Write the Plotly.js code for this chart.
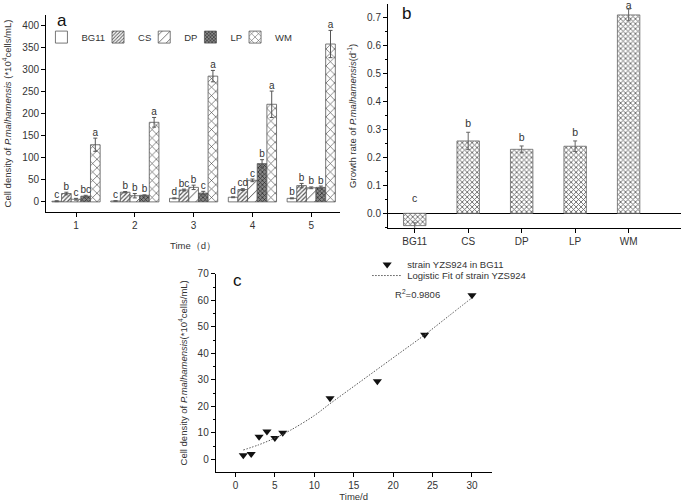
<!DOCTYPE html>
<html>
<head>
<meta charset="utf-8">
<script src="https://cdn.plot.ly/plotly-3.0.1.min.js"></script>
<style>
  body { margin: 0; background: #fff; }
  #chart { width: 685px; height: 502px; }
</style>
</head>
<body>
<div id="chart"></div>
<script>
// panel a: cell density per day
const days = [1, 2, 3, 4, 5];
const bg11Density = [1.5, 2, 8, 10.5, 8];
const bg11Err = [1, 0.5, 1, 1, 1];
const bg11Letters = ['c', 'c', 'd', 'd', 'b'];
const csDensity = [19, 22, 27, 28, 37];
const csErr = [3, 1.5, 2, 2, 5];
const csLetters = ['b', 'b', 'bc', 'cd', 'b'];
const dpDensity = [6, 14, 33, 49, 32];
const dpErr = [2, 5, 5, 3, 2];
const dpLetters = ['c', 'b', 'b', 'c', 'b'];
const lpDensity = [13, 15, 20, 87, 33];
const lpErr = [2, 1, 4, 9, 3];
const lpLetters = ['bc', 'b', 'c', 'b', 'b'];
const wmDensity = [130, 181, 286, 222, 359];
const wmErr = [15, 11, 13, 30, 31];
const wmLetters = ['a', 'a', 'a', 'a', 'a'];

// panel b: growth rate
const media = ['BG11', 'CS', 'DP', 'LP', 'WM'];
const growthRate = [-0.044, 0.259, 0.229, 0.24, 0.71];
const growthErr = [0.01, 0.031, 0.012, 0.019, 0.021];
const growthLetters = ['c', 'b', 'b', 'b', 'a'];

// panel c: strain in BG11 and its fit
const timeC = [1, 2, 3, 4, 5, 6, 12, 18, 24, 30];
const densityC = [1.5, 2, 8.5, 10.5, 8, 10, 23, 29.5, 47, 62];
const fitTime = [1, 3, 5, 7, 10, 12, 15, 18, 21, 24, 27, 30];
const fitDensity = [3.5, 5.5, 8, 11, 16.5, 21, 27.5, 34, 40.5, 47, 54, 61];

const FONT = 'Liberation Sans, Arial, sans-serif';
const INK = '#333';

// bar styles for each medium in panel a
const series = [
    { name: 'BG11', y: bg11Density, err: bg11Err, letters: bg11Letters,
      pattern: { shape: '', bgcolor: '#fff' } },
    { name: 'CS', y: csDensity, err: csErr, letters: csLetters,
      pattern: { shape: '/', size: 3, solidity: 0.4, fgcolor: '#555', bgcolor: '#fff' } },
    { name: 'DP', y: dpDensity, err: dpErr, letters: dpLetters,
      pattern: { shape: '/', size: 7, solidity: 0.12, fgcolor: '#333', bgcolor: '#fff' } },
    { name: 'LP', y: lpDensity, err: lpErr, letters: lpLetters,
      pattern: { shape: 'x', size: 3, solidity: 0.4, fgcolor: '#222', bgcolor: '#888' } },
    { name: 'WM', y: wmDensity, err: wmErr, letters: wmLetters,
      pattern: { shape: 'x', size: 6, solidity: 0.2, fgcolor: '#444', bgcolor: '#fff' } }
];

let traces = [];

series.forEach(function (s) {
    traces.push({
        type: 'bar',
        x: days,
        y: s.y,
        name: s.name,
        xaxis: 'x',
        yaxis: 'y',
        legend: 'legend',
        marker: { color: '#fff', pattern: s.pattern, line: { color: '#555', width: 0.8 } },
        error_y: { type: 'data', array: s.err, visible: true, color: '#555', thickness: 1, width: 2 },
        hoverinfo: 'skip'
    });
});

// significance letters sit above the error bars
series.forEach(function (s) {
    traces.push({
        type: 'scatter',
        mode: 'text',
        x: days,
        y: s.y.map((v, i) => v + s.err[i]),
        text: s.letters,
        textposition: 'top center',
        textfont: { family: FONT, size: 10, color: INK },
        xaxis: 'x',
        yaxis: 'y',
        showlegend: false,
        cliponaxis: false,
        hoverinfo: 'skip'
    });
});

// panel b
traces.push({
    type: 'bar',
    x: media,
    y: growthRate,
    width: 0.42,
    xaxis: 'x2',
    yaxis: 'y2',
    showlegend: false,
    marker: { color: '#fff', pattern: { shape: 'x', size: 3.5, solidity: 0.45, fgcolor: '#666', bgcolor: '#fff' },
              line: { color: '#666', width: 0.8 } },
    error_y: { type: 'data', array: growthErr, visible: true, color: '#666', thickness: 1, width: 2 },
    hoverinfo: 'skip'
});
// letters centred above each cap (kept inside the axis range); BG11 gets its letter above zero
traces.push({
    type: 'scatter',
    mode: 'text',
    x: media,
    y: growthRate.map((v, i) => v > 0 ? Math.min(v + growthErr[i] + 0.028, 0.742) : 0.05),
    text: growthLetters,
    textposition: 'middle center',
    textfont: { family: FONT, size: 10.5, color: INK },
    xaxis: 'x2',
    yaxis: 'y2',
    showlegend: false,
    cliponaxis: false,
    hoverinfo: 'skip'
});

// panel c
traces.push({
    type: 'scatter',
    mode: 'markers',
    x: timeC,
    y: densityC,
    name: 'strain YZS924 in BG11',
    xaxis: 'x3',
    yaxis: 'y3',
    legend: 'legend2',
    offsetgroup: 'c',
    marker: { symbol: 'triangle-down', size: 8, color: '#111' },
    hoverinfo: 'skip'
});
traces.push({
    type: 'scatter',
    mode: 'lines',
    x: fitTime,
    y: fitDensity,
    name: 'Logistic Fit of strain YZS924',
    xaxis: 'x3',
    yaxis: 'y3',
    legend: 'legend3',
    offsetgroup: 'c',
    line: { color: '#555', width: 1, dash: '1.5px,1.5px', shape: 'spline' },
    hoverinfo: 'skip'
});

const axisBase = {
    showline: true,
    linecolor: '#000',
    linewidth: 1,
    ticks: 'outside',
    ticklen: 4,
    tickcolor: '#000',
    showgrid: false,
    zeroline: false,
    mirror: false,
    tickfont: { family: FONT, size: 10, color: INK }
};

const titleFont = { family: FONT, size: 9.5, color: INK };
const smallLegend = { family: FONT, size: 9.5, color: INK };

const layout = {
    width: 685,
    height: 502,
    margin: { l: 0, r: 0, t: 0, b: 0 },
    paper_bgcolor: '#fff',
    plot_bgcolor: 'rgba(0,0,0,0)',
    font: { family: FONT, color: INK },
    barmode: 'group',
    bargap: 0.18,
    bargroupgap: 0,
    scattermode: 'group',
    xaxis: Object.assign({}, axisBase, {
        domain: [0.0672, 0.4964], anchor: 'y',
        range: [0.49, 5.49], tickvals: days,
        title: { text: 'Time（d）', font: titleFont, standoff: 12 }
    }),
    yaxis: Object.assign({}, axisBase, {
        domain: [0.5777, 0.9701], anchor: 'x',
        range: [-23, 425], dtick: 50,
        title: { text: 'Cell density of <i>P.malhamensis</i> (*10<sup>4</sup>cells/mL)', font: titleFont, standoff: 9 }
    }),
    xaxis2: Object.assign({}, axisBase, {
        domain: [0.5664, 0.9942], anchor: 'y2',
        type: 'category', range: [-0.5, 4.98]
    }),
    yaxis2: Object.assign({}, axisBase, {
        domain: [0.5464, 0.992], anchor: 'x2',
        range: [-0.0515, 0.749], dtick: 0.1, tickformat: '.1f',
        zeroline: true, zerolinecolor: '#000', zerolinewidth: 1,
        minor: { dtick: 0.05, ticks: 'outside', ticklen: 2, tickcolor: '#000' },
        title: { text: 'Growth rate of <i>P.malhamensis</i>(d<sup>-1</sup>)', font: titleFont, standoff: 8 }
    }),
    xaxis3: Object.assign({}, axisBase, {
        domain: [0.3149, 0.7178], anchor: 'y3',
        range: [-2.5, 32.5], dtick: 5,
        title: { text: 'Time/d', font: titleFont, standoff: 8 }
    }),
    yaxis3: Object.assign({}, axisBase, {
        domain: [0.0604, 0.4542], anchor: 'x3',
        range: [-4.7, 70], dtick: 10,
        minor: { dtick: 5, ticks: 'outside', ticklen: 2, tickcolor: '#000' },
        title: { text: 'Cell density of <i>P.malhamensis</i>(*10<sup>4</sup>cells/mL)', font: titleFont, standoff: 8 }
    }),
    legend: {
        orientation: 'h', x: 0.078, y: 0.955, xanchor: 'left', yanchor: 'top',
        font: smallLegend, bgcolor: 'rgba(0,0,0,0)',
        itemwidth: 30, indentation: -12, traceorder: 'normal'
    },
    legend2: {
        x: 0.536, y: 0.502, xanchor: 'left', yanchor: 'top',
        font: smallLegend, bgcolor: 'rgba(0,0,0,0)', itemwidth: 30
    },
    legend3: {
        x: 0.536, y: 0.480, xanchor: 'left', yanchor: 'top',
        font: smallLegend, bgcolor: 'rgba(0,0,0,0)', itemwidth: 30
    },
    annotations: [
        { text: 'a', xref: 'paper', yref: 'paper', x: 0.09, y: 0.96, xanchor: 'center', yanchor: 'middle',
          showarrow: false, font: { family: FONT, size: 17, color: '#111' } },
        { text: 'b', xref: 'paper', yref: 'paper', x: 0.594, y: 0.974, xanchor: 'center', yanchor: 'middle',
          showarrow: false, font: { family: FONT, size: 17, color: '#111' } },
        { text: 'c', xref: 'paper', yref: 'paper', x: 0.347, y: 0.442, xanchor: 'center', yanchor: 'middle',
          showarrow: false, font: { family: FONT, size: 17, color: '#111' } },
        { text: 'R<sup>2</sup>=0.9806', xref: 'paper', yref: 'paper', x: 0.574, y: 0.415,
          xanchor: 'left', yanchor: 'middle', showarrow: false, font: { family: FONT, size: 9.5, color: INK } }
    ]
};

Plotly.newPlot('chart', traces, layout, { staticPlot: true });
</script>
</body>
</html>
